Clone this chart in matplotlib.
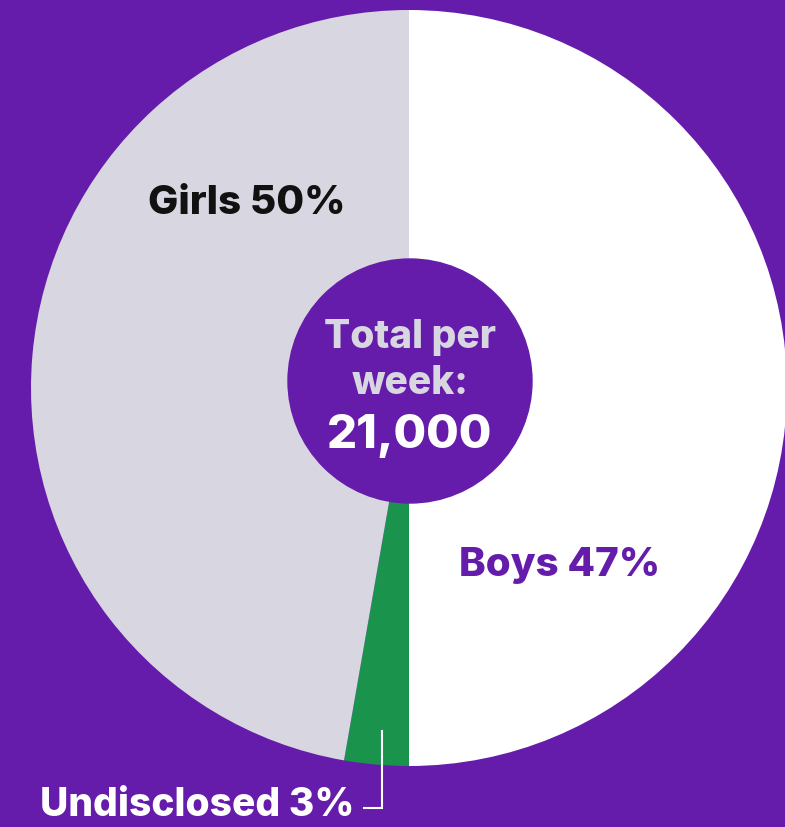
import matplotlib.pyplot as plt
from matplotlib.patches import Circle

# wedge sizes as drawn (clockwise from 12 o'clock), and the printed labels
groups = ['Boys', 'Undisclosed', 'Girls']
shares = [50.0, 2.75, 47.25]
label_pct = [47, 3, 50]
total_text = '21,000'

bg = '#651CAB'
colors = ['#FFFFFF', '#1A944C', '#D8D6E0']

W, H = 785, 827
fig = plt.figure(figsize=(W / 100, H / 100), dpi=100, facecolor=bg)
ax = fig.add_axes([0, 0, 1, 1])
ax.set_facecolor(bg)

cx, cy, r = 409, H - 388, 378
ax.pie(shares, colors=colors, startangle=90, counterclock=False,
       center=(cx, cy), radius=r, frame=True,
       wedgeprops=dict(linewidth=0))
ax.set_xlim(0, W)
ax.set_ylim(0, H)
ax.set_aspect('equal')
ax.axis('off')

ax.add_patch(Circle((410, H - 381), 122, color=bg, zorder=3))

font = ['Inter', 'DejaVu Sans']
ax.text(410, H - 338, 'Total per', ha='center', va='center', fontsize=28,
        fontweight='heavy', color='#D8D6E0', family=font, zorder=4)
ax.text(410, H - 384, 'week:', ha='center', va='center', fontsize=28,
        fontweight='heavy', color='#D8D6E0', family=font, zorder=4)
ax.text(410, H - 436, total_text, ha='center', va='center', fontsize=34,
        fontweight='heavy', color='white', family=font, zorder=4)

ax.text(247, H - 203, '%s %d%%' % (groups[2], label_pct[2]), ha='center',
        va='center', fontsize=29, fontweight='heavy', color='#111111', family=font)
ax.text(560, H - 565, '%s %d%%' % (groups[0], label_pct[0]), ha='center',
        va='center', fontsize=29, fontweight='heavy', color=bg, family=font)
ax.text(197, H - 806, '%s %d%%' % (groups[1], label_pct[1]), ha='center',
        va='center', fontsize=28, fontweight='heavy', color='white', family=font)

ax.plot([382, 382, 364], [H - 731, H - 808, H - 808], color='white', lw=1.5,
        solid_joinstyle='miter', zorder=5)

fig.savefig('out.png', dpi=100, facecolor=bg)
